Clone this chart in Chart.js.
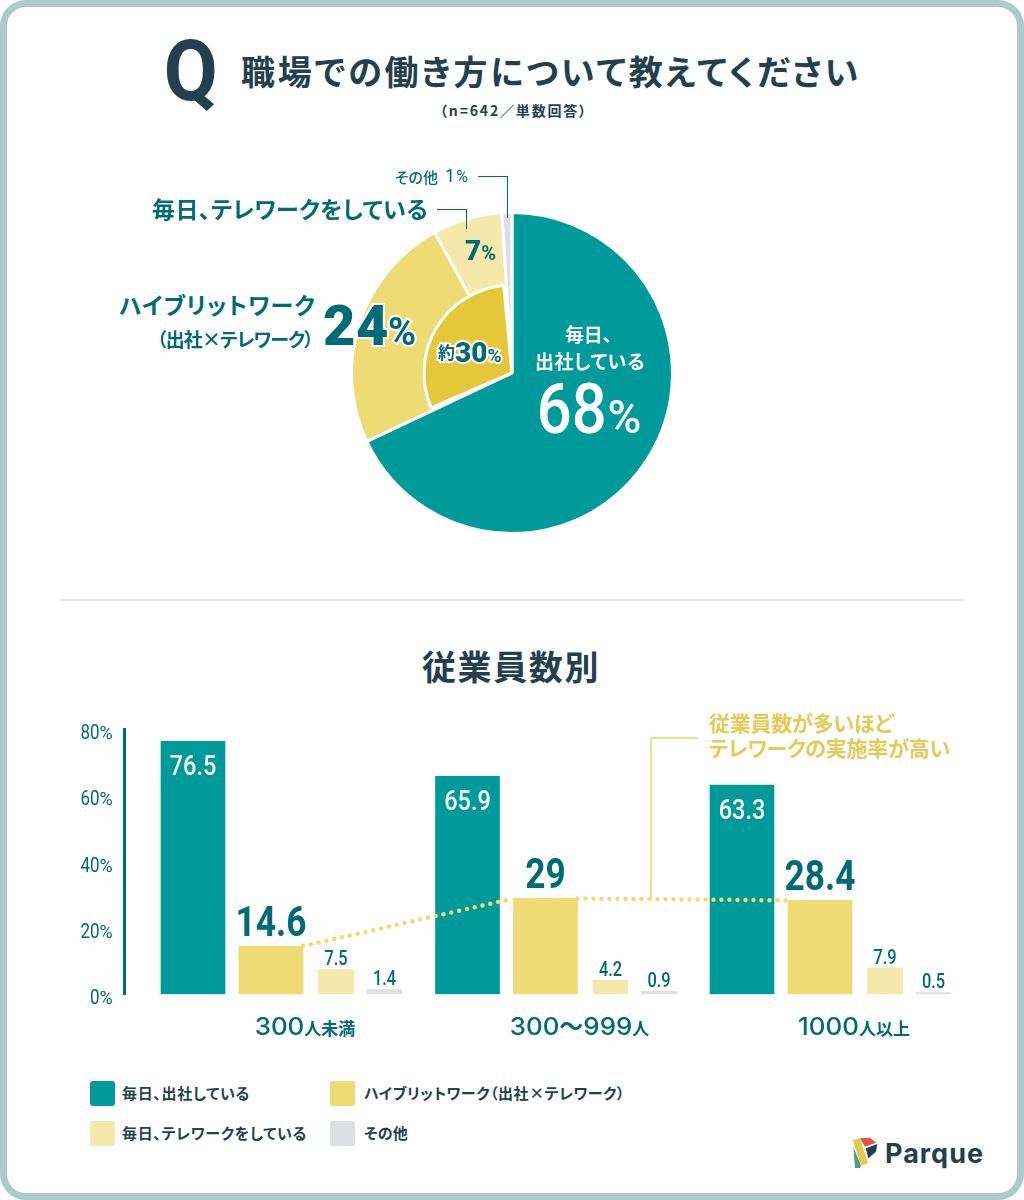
<!DOCTYPE html>
<html lang="ja"><head><meta charset="utf-8">
<script src="https://cdn.jsdelivr.net/npm/chart.js@4/dist/chart.umd.min.js"></script>
<style>
html,body{margin:0;padding:0;background:#fff}
#page{position:relative;width:1024px;height:1200px;overflow:hidden;background:#fff;font-family:"Noto Sans CJK JP",sans-serif}
#card{position:absolute;left:0;top:0;width:1024px;height:1200px;box-sizing:border-box;background:#fff;border:7px solid #acccca;border-radius:26px}
canvas{position:absolute;display:block}
.t{position:absolute;white-space:nowrap;font-weight:700;line-height:1;color:#006a77;font-feature-settings:"palt"}
.n{display:inline-block;font-family:Roboto,sans-serif;transform-origin:center;line-height:1}
.halo{-webkit-text-stroke:4px #fff;paint-order:stroke fill}
.navy{color:#24404e}
.rule{position:absolute;background:#006a77}
.cb{position:absolute;background:#f0df84}
.sw{position:absolute;width:25px;height:25px;border-radius:3px}
</style></head>
<body>
<div id="page"><div id="card"></div>
<canvas id="pie" width="360" height="360" style="left:332px;top:193px;width:360px;height:360px"></canvas>
<canvas id="pieInner" width="360" height="360" style="left:332px;top:193px;width:360px;height:360px"></canvas>
<canvas id="bars" width="904" height="360" style="left:60px;top:700px;width:904px;height:360px"></canvas>
<div id="overlay"></div>
</div>
<script>
// ---- data ----
const pieLabels = ['毎日、出社している','ハイブリットワーク（出社×テレワーク）','毎日、テレワークをしている','その他'];
const pieValues = [68,24,7,1];
const innerValues = [68.5,30,1.5];
const categories = ['300人未満','300〜999人','1000人以上'];
const office = [76.5,65.9,63.3];
const hybrid = [14.6,29,28.4];
const remote = [7.5,4.2,7.9];
const other = [1.4,0.9,0.5];
const yTicks = [0,20,40,60,80];

// ---- styles ----
const TEAL='#009a9a',YEL='#efdb74',LIGHT='#f4e8ab',GREY='#dcdfe6',DARKY='#e5c83a',INK='#006a77',NAVY='#24404e';
const ov=document.getElementById('overlay');
// text whose vertical middle is given; optional fit = target width in px
function T(html,left,center,size,fit,extra,cls){
  const d=document.createElement('div');d.className='t '+(cls||'');d.innerHTML=html;
  d.style.cssText=`left:${left}px;top:${center-.556*size}px;font-size:${size}px;${extra||''}`;ov.appendChild(d);
  if(fit){const w=d.getBoundingClientRect().width;const n=d.textContent.length;d.style.letterSpacing=((fit-w)/n)+'px';}
  return d;}
// text whose baseline is given
function B(html,left,base,extra,cls){
  const d=document.createElement('div');d.className='t '+(cls||'');d.innerHTML=html+'<span style="display:inline-block;width:0;height:0"></span>';
  d.style.cssText=`left:${left}px;top:0;${extra||''}`;ov.appendChild(d);
  const m=d.lastChild.getBoundingClientRect().bottom;d.style.top=(base-m)+'px';return d;}
function R(l,t,w,h,c){const d=document.createElement('div');d.className=c||'rule';d.style.cssText=`left:${l}px;top:${t}px;width:${w}px;height:${h}px`;ov.appendChild(d);return d;}
const N=(v,s,w,x)=>`<span class="n" style="font-size:${s}px;font-weight:${w};${x||''}">${v}</span>`;

// ---- headings ----
B(N('Q',86,700,'transform:scaleX(.91)'),161,100,'','navy');
T('職場での働き方について教えてください',241,73,34,620,'','navy');
T('（n=642／単数回答）',440,111,14,148,'','navy');
T('従業員数別',422,668,34,178,'','navy');
R(60,599,904,2).style.background='#dfe2e2';

// ---- pie labels ----
T('その他',395,177,15,43,'font-weight:500');
B(N(pieValues[3],18,400)+N('%',16,400,'margin-left:1px'),445,182);
R(478,176,29,1);R(507,176,1,42);
T('毎日、テレワークをしている',152,210,23,276);
R(437,209,29,1);R(466,209,1,20);
B(N(pieValues[2],28,900)+N('%',20,700),465,260);
T('ハイブリットワーク',119,306,23,197);
T('（出社×テレワーク）',157,340,19,156);
B(N(pieValues[1],56,900,'letter-spacing:.5px')+N('%',38,700,'margin-left:-1px'),323,345,'','halo');
T('約',438,352,17,0,'','halo');
B(N(30,28,900)+N('%',19,700),455,362,'','halo');
T('毎日、',565,335,19,47,'color:#fff');
T('出社している',535,362,19,110,'color:#fff');
B(N(pieValues[0],70,500,'color:#fff;transform:scaleX(.88);margin:0 -5px 0 -5px')+N('%',46,500,'color:#fff;margin-left:1px'),537,433);

// ---- callout ----
T('従業員数が多いほど',709,724,21,184,'color:#e5ca55');
T('テレワークの実施率が高い',709,749,21,241,'color:#e5ca55');
R(650,737,2,162,'cb');R(650,737,48,2,'cb');

// ---- pies ----
const pieBase={responsive:false,animation:false,cutout:0,plugins:{legend:{display:false},tooltip:{enabled:false}},layout:{padding:0}};
new Chart(document.getElementById('pie'),{type:'pie',
  data:{labels:pieLabels,datasets:[{data:pieValues,backgroundColor:[TEAL,YEL,LIGHT,GREY],borderColor:'#fff',borderWidth:3}]},
  options:{...pieBase,radius:160.5}});
new Chart(document.getElementById('pieInner'),{type:'pie',
  data:{labels:['','約30%',''],datasets:[{data:innerValues,backgroundColor:['rgba(0,0,0,0)',DARKY,'rgba(0,0,0,0)'],borderColor:['rgba(0,0,0,0)','#fff','rgba(0,0,0,0)'],borderWidth:3}]},
  options:{...pieBase,radius:88}});

// ---- bar chart ----
const GROUP_STEP=274.5, AX_LEFT=124, AX_RIGHT=964, FIRST=193;
const offs={office:0,hybrid:78/GROUP_STEP,remote:143/GROUP_STEP,other:191.5/GROUP_STEP};
const halfY=32/GROUP_STEP;
const place=(arr,off)=>arr.map((v,i)=>({x:i+off,y:v}));
const dotted=[
  {x:0+offs.hybrid+halfY,y:hybrid[0]},{x:1+offs.hybrid-halfY,y:hybrid[1]},
  {x:1+offs.hybrid+halfY,y:null},
  {x:1+offs.hybrid+halfY,y:hybrid[1]},{x:2+offs.hybrid-halfY,y:hybrid[2]}];
const labelStyles=[
  {size:27,weight:500,color:'#fff',dy:34,sx:.87},
  {size:42,weight:700,color:INK,dy:-10,sx:.84},
  {size:20,weight:500,color:INK,dy:-4.5,sx:.82},
  {size:20,weight:500,color:INK,dy:-4.5,sx:.82}];

function runs(ctx,parts,cx,base){ // parts: [{t,font,sx}] centred on cx
  let w=0;parts.forEach(p=>{ctx.font=p.font;p.w=ctx.measureText(p.t).width*(p.sx||1);w+=p.w;});
  let x=cx-w/2;ctx.textAlign='left';ctx.textBaseline='alphabetic';
  parts.forEach(p=>{ctx.save();ctx.font=p.font;ctx.translate(x,base);ctx.scale(p.sx||1,1);ctx.fillText(p.t,0,0);ctx.restore();x+=p.w;});
}
const textPlugin={id:'textPlugin',afterDraw(c){
  const ctx=c.ctx,sx=c.scales.x,sy=c.scales.y;ctx.save();
  // y ticks
  ctx.fillStyle=INK;
  yTicks.forEach(v=>{
    const parts=[{t:String(v),font:'400 20px Roboto',sx:.85},{t:'%',font:'400 18px Roboto',sx:1}];
    ctx.font=parts[0].font;const w=ctx.measureText(parts[0].t).width*.85;ctx.font=parts[1].font;const w2=ctx.measureText('%').width;
    runs(ctx,parts,52.7-(w+w2)/2,sy.getPixelForValue(v)+9.5);
  });
  // category labels
  categories.forEach((cat,i)=>{
    const parts=cat.split(/(\d+)/).filter(Boolean).map(s=>/\d/.test(s)
      ?{t:s,font:'500 24px Inter',sx:1.08}:{t:s,font:(s==='〜'?'700 24px':'700 17px')+' "Noto Sans CJK JP"',sx:1});
    ctx.fillStyle=INK;
    runs(ctx,parts,sx.getPixelForValue(i+.408),335);
  });
  // value labels
  labelStyles.forEach((st,di)=>{
    c.getDatasetMeta(di).data.forEach((el,i)=>{
      ctx.fillStyle=st.color;
      const val=c.data.datasets[di].data[i].y;
      runs(ctx,[{t:String(val),font:`${st.weight} ${st.size}px Roboto`,sx:st.sx}],el.x,el.y+st.dy);
    });
  });
  ctx.restore();
}};
new Chart(document.getElementById('bars'),{
  data:{datasets:[
    {type:'bar',label:pieLabels[0],data:place(office,offs.office),backgroundColor:TEAL,barThickness:64,grouped:false,order:1},
    {type:'bar',label:pieLabels[1],data:place(hybrid,offs.hybrid),backgroundColor:YEL,barThickness:64,grouped:false,order:1},
    {type:'bar',label:pieLabels[2],data:place(remote,offs.remote),backgroundColor:LIGHT,barThickness:35,grouped:false,order:1},
    {type:'bar',label:pieLabels[3],data:place(other,offs.other),backgroundColor:GREY,barThickness:35,grouped:false,order:1},
    {type:'line',label:'trend',data:dotted,borderColor:YEL,borderWidth:4.5,borderDash:[0,8],borderCapStyle:'round',pointRadius:0,tension:0,spanGaps:false,order:0}
  ]},
  options:{responsive:false,animation:false,
    layout:{padding:{left:0,right:0,top:29.8,bottom:65.7}},
    plugins:{legend:{display:false},tooltip:{enabled:false}},
    scales:{
      x:{type:'linear',display:false,offset:false,min:-(FIRST-AX_LEFT)/GROUP_STEP,max:(AX_RIGHT-FIRST)/GROUP_STEP},
      y:{min:0,max:80,afterBuildTicks(s){s.ticks=yTicks.map(v=>({value:v}))},
        afterFit(s){s.width=AX_LEFT-60},
        grid:{display:false,drawTicks:false},
        border:{display:true,color:INK,width:3},
        ticks:{display:false}}
    }},
  plugins:[textPlugin]});

// ---- legend ----
const legendSpots=[[90,1081,122,128],[330,1081,364,261],[90,1121,122,185],[330,1121,364,44]];
[TEAL,YEL,LIGHT,GREY].forEach((col,i)=>{
  const [sx,sy,tx,fw]=legendSpots[i];
  const d=document.createElement('div');d.className='sw';d.style.left=sx+'px';d.style.top=sy+'px';d.style.background=col;ov.appendChild(d);
  T(pieLabels[i],tx,sy+12,15,fw,'','navy');
});

// ---- logo ----
ov.insertAdjacentHTML('beforeend',`<svg style="position:absolute;left:848px;top:1134px" width="34" height="38" viewBox="848 1134 34 38">
<path fill="#e8c94f" d="M852.7 1140L860 1138.5L868 1163L861 1165.7Z"/>
<path fill="#4a9c8c" d="M853.3 1146.7L861 1165.7L860 1168L855 1168Z"/>
<path fill="#e5533d" d="M860 1138.3L870 1137.7L876 1142.7L865 1146.7Z"/>
<path fill="#24404e" d="M865.7 1148.3L877.3 1144L876 1151.7L868.3 1158.3Z"/></svg>`);
T('Parque',885,1155.5,27,99,'font-family:Inter,sans-serif;font-weight:700;font-feature-settings:normal','navy');
</script>
</body></html>
